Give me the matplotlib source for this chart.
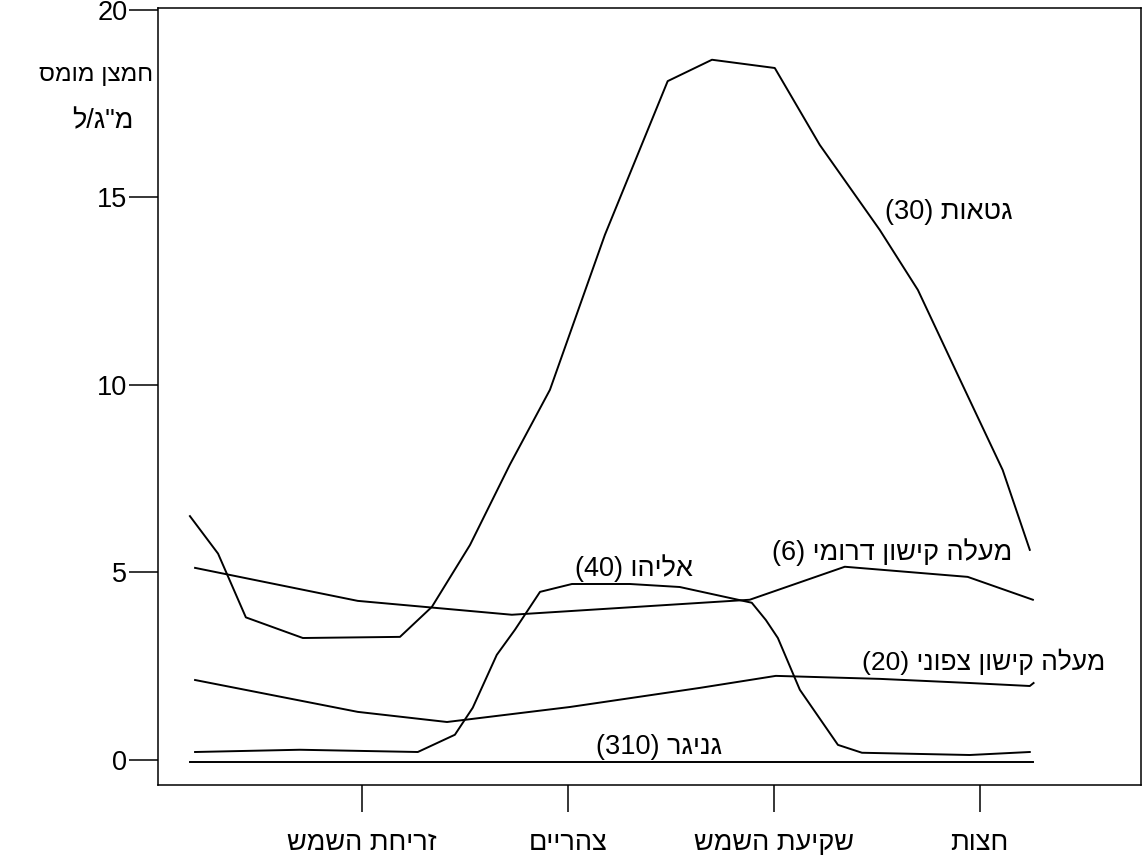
import numpy as np
import matplotlib
matplotlib.use("Agg")
import matplotlib.pyplot as plt

plt.rcParams['font.family'] = ['Liberation Sans', 'DejaVu Sans']

## hebrew is written right-to-left, matplotlib draws left-to-right -> flip the letters
def heb(s):
    return s[::-1]

#### data (hours from start, dissolved oxygen mg/l)
gtaot_h = [0.99, 1.81, 2.62, 4.28, 7.11, 8.04, 9.15, 10.31, 11.48, 13.08, 14.91, 16.2,
           18.03, 19.34, 21.09, 22.2, 23.36, 24.67, 25.46]
gtaot_v = [6.5, 5.5, 3.8, 3.25, 3.28, 4.08, 5.73, 7.87, 9.87, 14.0, 18.1, 18.67,
           18.45, 16.4, 14.13, 12.53, 10.27, 7.73, 5.6]

dromi_h = [1.14, 5.88, 10.37, 17.3, 20.07, 23.65, 25.55]
dromi_v = [5.12, 4.24, 3.87, 4.27, 5.15, 4.88, 4.27]

eliyahu_h = [1.14, 4.19, 7.63, 8.71, 9.23, 9.93, 10.46, 11.19, 12.12, 13.81, 15.26,
             17.36, 17.77, 18.12, 18.76, 19.87, 20.57, 23.71, 25.46]
eliyahu_v = [0.21, 0.27, 0.21, 0.67, 1.39, 2.8, 3.47, 4.48, 4.69, 4.69, 4.61,
             4.19, 3.73, 3.25, 1.87, 0.4, 0.19, 0.13, 0.21]

tzafoni_h = [1.14, 5.88, 8.48, 12.06, 15.85, 18.06, 21.09, 23.71, 25.46, 25.57]
tzafoni_v = [2.13, 1.28, 1.01, 1.41, 1.92, 2.24, 2.16, 2.05, 1.97, 2.05]

gniger_h = [0.99, 25.55]
gniger_v = [-0.05, -0.05]

x_ticks = [6, 12, 18, 24]
x_labels = ["זריחת השמש", "צהריים", "שקיעת השמש", "חצות"]
y_ticks = [0, 5, 10, 15, 20]

#### plotting
fig = plt.figure(figsize=(11.42, 8.66), dpi=100)
ax = fig.add_axes([158/1142, 1 - 785/866, 983/1142, 777/866])

lw = 1.4
for h, v in [(gtaot_h, gtaot_v), (dromi_h, dromi_v), (eliyahu_h, eliyahu_v),
             (tzafoni_h, tzafoni_v), (gniger_h, gniger_v)]:
    ax.plot(h, v, color="black", linewidth=lw)

ax.set_xlim(0.06, 28.7)
ax.set_ylim(-0.67, 20.05)

fs = 19.5
ax.set_xticks(x_ticks)
ax.set_xticklabels([heb(s) for s in x_labels], fontsize=fs)
ax.set_yticks(y_ticks)
ax.set_yticklabels([str(t) for t in y_ticks], fontsize=fs)
ax.tick_params(axis="x", direction="out", length=19.5, width=1.1, pad=13)
ax.tick_params(axis="y", direction="out", length=21, width=1.1, pad=1)
for sp in ax.spines.values():
    sp.set_linewidth(1.1)

## curve labels
ax.text(21.24, 14.61, "(30) " + heb("גטאות"), fontsize=fs, va="center", ha="left")
ax.text(12.2, 5.12, "(40) " + heb("אליהו"), fontsize=fs, va="center", ha="left")
ax.text(17.94, 5.55, "(6) " + heb("מעלה קישון דרומי"), fontsize=fs, va="center", ha="left")
ax.text(20.57, 2.61, "(20) " + heb("מעלה קישון צפוני"), fontsize=fs - 0.5, va="center", ha="left")
ax.text(12.82, 0.35, "(310) " + heb("גניגר"), fontsize=fs, va="center", ha="left")

## y label, two lines
fig.text(153/1142, 1 - 75/866, heb("חמצן מומס"), fontsize=17.5, va="center", ha="right")
fig.text(72/1142, 1 - 121/866, heb('מ"ג/ל'), fontsize=fs, va="center", ha="left")

plt.savefig("out.png", dpi=100)
